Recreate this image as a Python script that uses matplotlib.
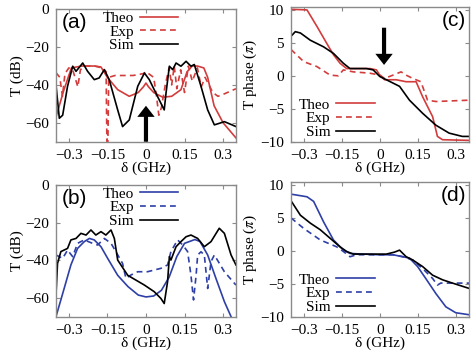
import matplotlib
matplotlib.use("Agg")
import matplotlib.pyplot as plt

plt.rcParams['font.family'] = ['Liberation Serif', 'DejaVu Serif']
plt.rcParams['mathtext.fontset'] = 'stix'
plt.rcParams['font.size'] = 11

RED = '#d23c3c'
BLUE = '#2e3fa6'
GREY = '#8a8a8a'

# ---- panel (a): transmission, red set
theo_a_x = [-0.35, -0.32, -0.29, -0.25, -0.2, -0.175, -0.15, -0.11, -0.065, -0.03, -0.01, 0.0,
            0.01, 0.03, 0.065, 0.1, 0.136, 0.16, 0.18, 0.2, 0.225, 0.24, 0.265, 0.3, 0.35]
theo_a_y = [-57, -43, -31, -30, -30, -30.5, -36, -42.5, -46, -44, -41, -39,
            -41, -44, -46.5, -46, -42.5, -33, -30, -30, -31, -36, -51, -60, -68]
exp_a_x = [-0.35, -0.335, -0.325, -0.315, -0.3, -0.285, -0.265, -0.255, -0.24, -0.2, -0.17, -0.155,
           -0.152, -0.148, -0.145, -0.12, -0.05, -0.01, 0.0, 0.01, 0.03, 0.04, 0.05, 0.06, 0.075,
           0.09, 0.1, 0.11, 0.12, 0.135, 0.15, 0.165, 0.18, 0.2, 0.215, 0.23, 0.26, 0.28, 0.3, 0.35]
exp_a_y = [-33.5, -36, -46, -34, -31, -32, -41, -32, -30, -30, -31, -33,
           -70, -70, -36, -35, -35, -34, -33, -34, -36, -45, -56, -52, -40,
           -31, -40, -30, -42, -32, -44, -30, -38, -31, -41, -36, -44, -46, -45, -42]
sim_a_x = [-0.35, -0.337, -0.324, -0.305, -0.285, -0.272, -0.246, -0.227, -0.201, -0.182, -0.162,
           -0.143, -0.11, -0.091, -0.065, -0.032, -0.006, 0.013, 0.045, 0.071, 0.078, 0.091, 0.104,
           0.117, 0.136, 0.156, 0.175, 0.188, 0.214, 0.24, 0.266, 0.285, 0.305, 0.35]
sim_a_y = [-40, -57.6, -56, -40.7, -30.1, -32.8, -28.4, -32.8, -37.2, -36.3, -31.9,
           -37.2, -53.2, -62, -58.5, -40.7, -33.7, -37.2, -46.1, -53.2, -44.3, -30.1, -31.9,
           -28.4, -30.1, -27.5, -30.1, -29.2, -40.7, -53.2, -61.1, -60.3, -59.4, -62]

# ---- panel (b): transmission, blue set
theo_b_x = [-0.35, -0.318, -0.292, -0.266, -0.24, -0.22, -0.201, -0.175, -0.149, -0.11, -0.07,
            -0.03, 0.0, 0.03, 0.06, 0.09, 0.12, 0.15, 0.19, 0.21, 0.24, 0.272, 0.305, 0.331]
theo_b_y = [-70, -54.9, -42.5, -33.7, -30.1, -28.4, -29.2, -32.8, -39, -48, -54,
            -58.5, -59.5, -59, -56, -49, -38, -31, -29, -30, -37.2, -49.6, -62, -70]
exp_b_x = [-0.35, -0.324, -0.305, -0.285, -0.266, -0.24, -0.208, -0.188, -0.162, -0.136, -0.117,
           -0.091, -0.078, -0.058, -0.032, 0.006, 0.058, 0.084, 0.097, 0.123, 0.143, 0.162, 0.175,
           0.185, 0.195, 0.201, 0.214, 0.227, 0.24, 0.253, 0.266, 0.305, 0.35]
exp_b_y = [-37.2, -39, -34.6, -38.1, -31, -29.2, -31, -31.9, -28.4, -31, -35.4,
           -41.7, -49.6, -47.8, -46.1, -46.1, -44.3, -42.5, -35.4, -29.2, -31.9, -35.4, -48,
           -61.1, -48, -37.2, -35.5, -37.2, -55, -40.7, -37.2, -46.1, -53.2]
sim_b_x = [-0.35, -0.344, -0.331, -0.305, -0.292, -0.272, -0.253, -0.233, -0.214, -0.195, -0.175,
           -0.156, -0.136, -0.123, -0.11, -0.071, -0.006, 0.032, 0.058, 0.071, 0.084, 0.091, 0.097,
           0.117, 0.136, 0.156, 0.175, 0.201, 0.227, 0.253, 0.285, 0.305, 0.331, 0.35]
sim_b_y = [-58.5, -41.7, -35.4, -33.7, -29.2, -28.4, -25.7, -26.6, -23.9, -26.6, -24.8,
           -26.6, -23.9, -28.4, -39.9, -48, -53.2, -56.7, -60.3, -63, -51.4, -38.1, -39.9,
           -32.8, -30.1, -27.5, -26.6, -28.4, -32.8, -30.1, -23, -25.7, -37.2, -42.5]

# ---- panel (c): phase, red set
theo_c_x = [-0.35, -0.287, -0.248, -0.209, -0.183, -0.157, -0.131, -0.04, -0.014, -0.001, 0.018,
            0.064, 0.103, 0.142, 0.168, 0.207, 0.226, 0.246, 0.35]
theo_c_y = [10.1, 10, 7.5, 4.9, 3.2, 1.9, 1.1, 1.1, 0.9, 0.1, -0.6,
            -0.6, -0.9, -0.9, -3.2, -6.2, -9.2, -9.7, -9.8]
exp_c_x = [-0.35, -0.3, -0.248, -0.196, -0.164, -0.144, -0.105, -0.04, 0.0, 0.018, 0.051,
           0.083, 0.103, 0.129, 0.161, 0.187, 0.22, 0.35]
exp_c_y = [4.0, 2.15, 1.4, 0.1, 0.0, 0.9, 0.6, 0.4, 0.1, -0.4, 0.1,
           0.6, 0.1, -0.4, -0.9, -3.7, -3.9, -3.7]
sim_c_x = [-0.35, -0.333, -0.313, -0.274, -0.222, -0.183, -0.144, -0.118, -0.053, -0.027, -0.001,
           0.025, 0.077, 0.116, 0.168, 0.22, 0.272, 0.324, 0.35]
sim_c_y = [6.0, 6.7, 6.5, 5.4, 4.4, 3.4, 1.9, 1.1, 1.1, 0.9, -0.1,
           -0.6, -1.6, -3.7, -5.7, -7.5, -8.7, -9.2, -9.2]

# ---- panel (d): phase, blue set
theo_d_x = [-0.35, -0.287, -0.261, -0.222, -0.183, -0.144, -0.118, -0.066, -0.001, 0.051, 0.09,
            0.116, 0.148, 0.18, 0.22, 0.259, 0.298, 0.35]
theo_d_y = [8.6, 8.2, 7.5, 4.4, 1.65, 0.1, -0.4, -0.5, -0.6, -0.6, -0.9,
            -1.1, -2.4, -4.2, -6.5, -8.5, -9.4, -9.7]
exp_d_x = [-0.35, -0.3, -0.235, -0.17, -0.144, -0.118, -0.092, -0.04, 0.051, 0.09, 0.129,
           0.168, 0.207, 0.226, 0.239, 0.35]
exp_d_y = [5.0, 3.4, 1.65, 0.6, -0.1, -0.9, -0.6, -0.6, -0.6, -0.9, -1.4,
           -2.7, -4.2, -5.2, -4.9, -4.9]
sim_d_x = [-0.35, -0.313, -0.274, -0.235, -0.196, -0.157, -0.131, -0.105, -0.04, 0.025, 0.057,
           0.077, 0.09, 0.103, 0.129, 0.168, 0.207, 0.246, 0.285, 0.35]
sim_d_y = [7.6, 5.4, 4.2, 3.2, 1.9, 0.6, -0.1, -0.5, -0.5, -0.5, -0.2,
           0.1, -0.4, -0.9, -1.4, -2.4, -3.7, -4.4, -4.9, -5.7]

xticks = [-0.3, -0.15, 0, 0.15, 0.3]
xticklabels = ['\u22120.3', '\u22120.15', '0', '0.15', '0.3']


def style_axes(ax, ylim, yticks):
    ax.set_xlim(-0.35, 0.35)
    ax.set_ylim(*ylim)
    ax.set_xticks(xticks)
    ax.set_xticklabels(xticklabels)
    ax.set_yticks(yticks)
    ax.tick_params(direction='in', top=True, right=True, length=3, color=GREY, pad=5, labelsize=11)
    for s in ax.spines.values():
        s.set_color(GREY)
        s.set_linewidth(1.0)
    ax.set_xlabel('\u03b4 (GHz)', fontsize=11, labelpad=0)


def draw(ax, col, tx, ty, ex, ey, sx, sy):
    ax.plot(tx, ty, color=col, lw=1.2, label='Theo')
    ax.plot(ex, ey, color=col, lw=1.2, ls=(0, (3.5, 2.5)), label='Exp')
    ax.plot(sx, sy, color='black', lw=1.2, label='Sim')


fig = plt.figure(figsize=(4.74, 3.57), dpi=100)
ax_a = fig.add_axes([0.1181, 0.6031, 0.3797, 0.3709])
ax_c = fig.add_axes([0.6139, 0.6031, 0.3755, 0.3765])
ax_b = fig.add_axes([0.1181, 0.1129, 0.3797, 0.3689])
ax_d = fig.add_axes([0.6139, 0.1129, 0.3755, 0.3765])

draw(ax_a, RED, theo_a_x, theo_a_y, exp_a_x, exp_a_y, sim_a_x, sim_a_y)
draw(ax_b, BLUE, theo_b_x, theo_b_y, exp_b_x, exp_b_y, sim_b_x, sim_b_y)
draw(ax_c, RED, theo_c_x, theo_c_y, exp_c_x, exp_c_y, sim_c_x, sim_c_y)
draw(ax_d, BLUE, theo_d_x, theo_d_y, exp_d_x, exp_d_y, sim_d_x, sim_d_y)

for ax in (ax_a, ax_b):
    style_axes(ax, (-70, 0), [0, -20, -40, -60])
    ax.set_ylabel('T (dB)', fontsize=11, labelpad=1)
    ax.legend(loc='upper left', bbox_to_anchor=(0.26, 0.985), frameon=False, markerfirst=False,
              borderpad=0, borderaxespad=0, labelspacing=0.0, handlelength=2.5, handletextpad=0.4,
              fontsize=11)
for ax in (ax_c, ax_d):
    style_axes(ax, (-10, 10.4), [10, 5, 0, -5, -10])
    ax.set_ylabel('T phase ($\\pi$)', fontsize=11, labelpad=1)
    ax.legend(loc='lower left', bbox_to_anchor=(0.045, 0.02), frameon=False, markerfirst=False,
              borderpad=0, borderaxespad=0, labelspacing=0.0, handlelength=2.5, handletextpad=0.4,
              fontsize=11)

ax_a.text(0.033, 0.9, '(a)', transform=ax_a.transAxes, family='Liberation Sans', fontsize=15, va='center')
ax_b.text(0.033, 0.9, '(b)', transform=ax_b.transAxes, family='Liberation Sans', fontsize=15, va='center')
ax_c.text(0.985, 0.9, '(c)', transform=ax_c.transAxes, family='Liberation Sans', fontsize=15, va='center', ha='right')
ax_d.text(0.985, 0.9, '(d)', transform=ax_d.transAxes, family='Liberation Sans', fontsize=15, va='center', ha='right')

arrow = dict(arrowstyle='simple,head_length=0.8,head_width=1.25,tail_width=0.3',
             fc='black', ec='none', shrinkA=0, shrinkB=0, mutation_scale=10)
ax_a.annotate('', xy=(0, -51), xytext=(0, -70), arrowprops=arrow)
ax_c.annotate('', xy=(0.016, 1.65), xytext=(0.016, 7.3), arrowprops=arrow)

fig.savefig('out.png', dpi=100)
